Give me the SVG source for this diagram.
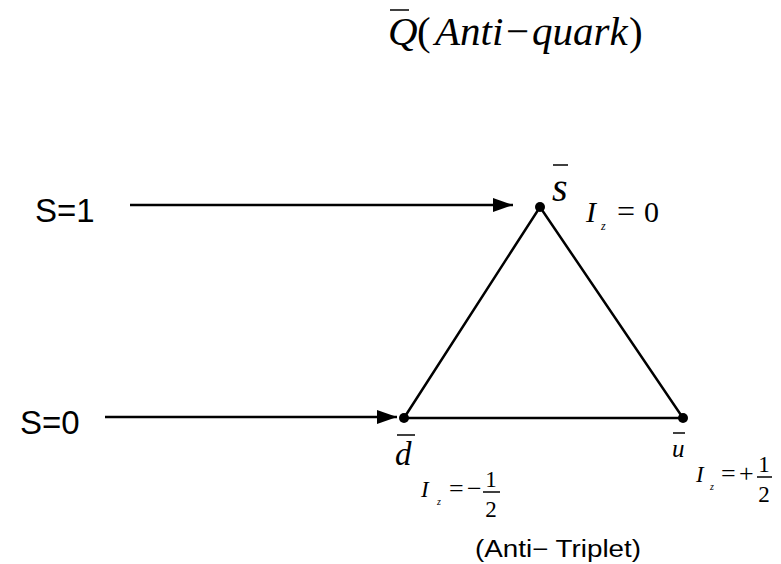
<svg xmlns="http://www.w3.org/2000/svg" width="781" height="564" viewBox="0 0 781 564">
<style>
.m{font-family:"Liberation Serif","Times New Roman",serif;font-style:italic;fill:#000}
.n{font-family:"Liberation Serif","Times New Roman",serif;fill:#000}
.s{font-family:"Liberation Sans",Arial,sans-serif;fill:#000}
.ln{stroke:#000;stroke-width:2.5;fill:none}
.ov{stroke:#000;stroke-width:1.5}
</style>
<defs>
<marker id="a" viewBox="0 0 20 14" refX="20" refY="7" markerWidth="20" markerHeight="14" orient="auto" markerUnits="userSpaceOnUse"><path d="M0,0 L20,7 L0,14 Z" fill="#000"/></marker>
</defs>
<g id="title">
<line class="ov" x1="390" y1="10" x2="409" y2="10"/>
<text class="m" x="388" y="45" font-size="41">Q</text>
<text class="n" x="417" y="45" font-size="41">(</text>
<text class="m" x="435" y="45" font-size="41">Anti</text>
<text class="n" x="506" y="45" font-size="41">−</text>
<text class="m" x="532" y="45" font-size="41">quark</text>
<text class="n" x="629" y="45" font-size="41">)</text>
</g>
<g id="connectors">
<line class="ln" x1="130" y1="205" x2="513" y2="205" marker-end="url(#a)"/>
<line class="ln" x1="105" y1="417" x2="397" y2="417" marker-end="url(#a)"/>
<path class="ln" d="M404,418 L540,207 L683,418 Z" stroke-linejoin="miter"/>
</g>
<g id="s1"><text class="s" x="35" y="222" font-size="33">S=1</text></g>
<g id="s0"><text class="s" x="20" y="434" font-size="33">S=0</text></g>
<g id="sbar">
<circle cx="540" cy="207" r="5"/>
<line class="ov" x1="553" y1="165" x2="568" y2="165"/>
<text class="m" x="552" y="201" font-size="40">s</text>
<text class="m" x="586" y="222" font-size="30">I</text>
<text class="m" x="601" y="230" font-size="12">z</text>
<text class="n" x="617" y="222" font-size="32">=</text>
<text class="n" x="644" y="222" font-size="30">0</text>
</g>
<g id="dbar">
<circle cx="404" cy="418" r="5"/>
<line class="ov" x1="397" y1="435" x2="415" y2="435"/>
<text class="m" x="395" y="465" font-size="33">d</text>
<text class="m" x="421" y="497" font-size="23">I</text>
<text class="m" x="437" y="505" font-size="10">z</text>
<text class="n" x="449" y="497" font-size="26">=</text>
<text class="n" x="467" y="497" font-size="26">−</text>
<text class="n" x="491" y="487" font-size="23" text-anchor="middle">1</text>
<line class="ov" x1="483" y1="492" x2="500" y2="492"/>
<text class="n" x="491" y="517" font-size="23" text-anchor="middle">2</text>
</g>
<g id="ubar">
<circle cx="683" cy="418" r="5"/>
<line class="ov" x1="673" y1="433" x2="685" y2="433"/>
<text class="m" x="672" y="457" font-size="25">u</text>
<text class="m" x="696" y="482" font-size="23">I</text>
<text class="m" x="710" y="490" font-size="10">z</text>
<text class="n" x="721" y="482" font-size="26">=</text>
<text class="n" x="739" y="482" font-size="26">+</text>
<text class="n" x="764" y="472" font-size="23" text-anchor="middle">1</text>
<line class="ov" x1="757" y1="477" x2="772" y2="477"/>
<text class="n" x="764" y="502" font-size="23" text-anchor="middle">2</text>
</g>
<g id="caption"><text class="s" x="475" y="557" font-size="23" textLength="166" lengthAdjust="spacingAndGlyphs">(Anti− Triplet)</text></g>
</svg>
